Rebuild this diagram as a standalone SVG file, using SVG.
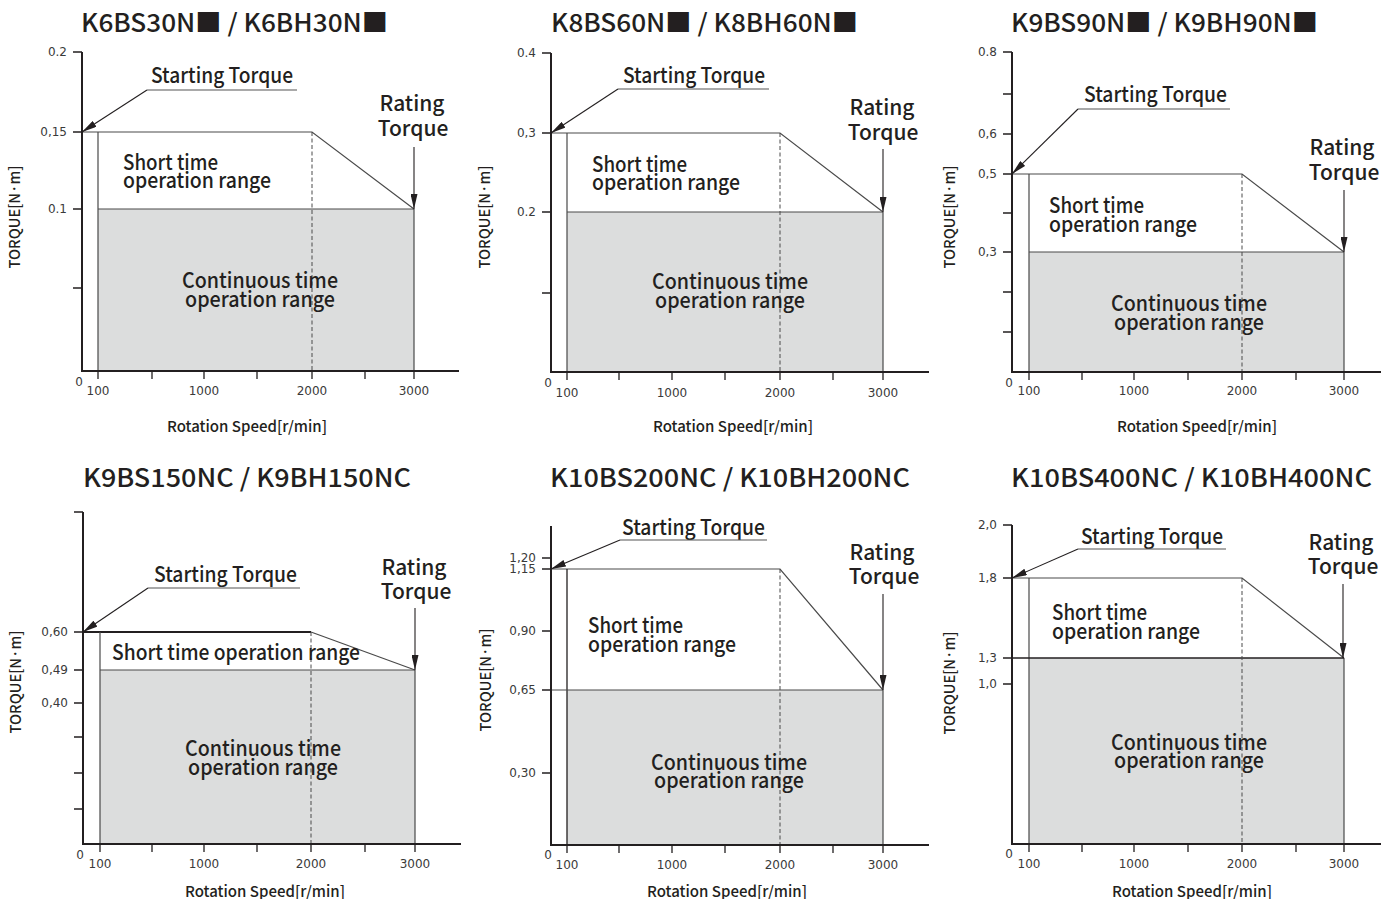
<svg xmlns="http://www.w3.org/2000/svg" width="1386" height="899" viewBox="0 0 1386 899">
<style>
.bg{fill:#ffffff}
.ax{stroke:#231f20;stroke-width:2;fill:none}
.tk{stroke:#231f20;stroke-width:1.3;fill:none}
.ln{stroke:#4a4a4a;stroke-width:1.2;fill:none}
.dk{stroke:#231f20;stroke-width:1.3;fill:none}
.thick{stroke:#231f20;stroke-width:2.2;fill:none}
.dash{stroke:#4a4a4a;stroke-width:1;stroke-dasharray:4 2.5;fill:none}
.ar{stroke:#231f20;stroke-width:1.1;fill:none}
.ul{stroke:#555;stroke-width:1.2;fill:none}
.cont{fill:#dcdddd}
.t{font-family:"Noto Sans CJK KR","Noto Sans",sans-serif;fill:#231f20}
.title{font-size:25px;font-weight:500}
.lbl{font-size:21px;font-weight:500}
.axl{font-size:15px;font-weight:500}
.num{font-family:"DejaVu Sans","Liberation Sans",sans-serif;font-size:12px;fill:#3a3a3a}
.r{text-anchor:end}
.m{text-anchor:middle}
</style>
<defs>
<marker id="ah" viewBox="0 0 15 7" refX="15" refY="3.5" markerWidth="15" markerHeight="7" markerUnits="userSpaceOnUse" orient="auto">
<path d="M0,0 L15,3.5 L0,7 z" fill="#231f20"/>
</marker>
</defs>
<rect class="bg" x="0" y="0" width="1386" height="899"/>

<!-- Chart 1 -->
<g id="chart-k6bs30">
<text class="t title" x="81" y="32" textLength="307" lengthAdjust="spacingAndGlyphs">K6BS30N■ / K6BH30N■</text>
<rect class="cont" x="98" y="209" width="316" height="162"/>
<path class="ln" d="M82,132 H312 L414,209"/>
<path class="ln" d="M98,132 V371 M98,209 H414 M414,209 V371"/>
<path class="dash" d="M312,132 V371"/>
<path class="ax" d="M82,52 V371 H459"/>
<path class="tk" d="M73,52 H82 M73,132 H82 M73,209 H82 M73,288 H82 M98,371 V379 M152,371 V379 M204,371 V379 M257,371 V379 M312,371 V379 M365,371 V379 M414,371 V379"/>
<text class="num r" x="67" y="56">0.2</text>
<text class="num r" x="67" y="136">0,15</text>
<text class="num r" x="67" y="213">0.1</text>
<text class="num m" x="79" y="386">0</text>
<text class="num m" x="98" y="395">100</text>
<text class="num m" x="204" y="395">1000</text>
<text class="num m" x="312" y="395">2000</text>
<text class="num m" x="414" y="395">3000</text>
<text class="t axl m" x="247" y="432" textLength="160" lengthAdjust="spacingAndGlyphs">Rotation Speed[r/min]</text>
<text class="t axl m" transform="translate(20,217) rotate(-90)" textLength="103" lengthAdjust="spacingAndGlyphs">TORQUE[N·m]</text>
<text class="t lbl" x="151" y="83" textLength="142" lengthAdjust="spacingAndGlyphs">Starting Torque</text>
<path class="ul" d="M147,90 H297"/>
<text class="t lbl m"><tspan x="412" y="111">Rating</tspan><tspan x="413" y="136">Torque</tspan></text>
<text class="t lbl"><tspan x="123" y="170" textLength="95" lengthAdjust="spacingAndGlyphs">Short time</tspan><tspan x="123" y="188" textLength="148" lengthAdjust="spacingAndGlyphs">operation range</tspan></text>
<text class="t lbl m"><tspan x="260" y="288" textLength="156" lengthAdjust="spacingAndGlyphs">Continuous time</tspan><tspan x="260" y="307" textLength="150" lengthAdjust="spacingAndGlyphs">operation range</tspan></text>
</g>

<!-- Chart 2 -->
<g id="chart-k8bs60">
<text class="t title" x="551" y="32" textLength="307" lengthAdjust="spacingAndGlyphs">K8BS60N■ / K8BH60N■</text>
<rect class="cont" x="567" y="212" width="316" height="160"/>
<path class="ln" d="M551,133 H780 L883,212"/>
<path class="ln" d="M567,133 V372 M567,212 H883 M883,212 V372"/>
<path class="dash" d="M780,133 V372"/>
<path class="ax" d="M551,53 V372 H929"/>
<path class="tk" d="M542,53 H551 M542,133 H551 M542,212 H551 M542,293 H551 M567,372 V380 M619,372 V380 M672,372 V380 M725,372 V380 M780,372 V380 M833,372 V380 M883,372 V380"/>
<text class="num r" x="536" y="57">0.4</text>
<text class="num r" x="536" y="137">0,3</text>
<text class="num r" x="536" y="216">0.2</text>
<text class="num m" x="548" y="387">0</text>
<text class="num m" x="567" y="397">100</text>
<text class="num m" x="672" y="397">1000</text>
<text class="num m" x="780" y="397">2000</text>
<text class="num m" x="883" y="397">3000</text>
<text class="t axl m" x="733" y="432" textLength="160" lengthAdjust="spacingAndGlyphs">Rotation Speed[r/min]</text>
<text class="t axl m" transform="translate(490,217) rotate(-90)" textLength="103" lengthAdjust="spacingAndGlyphs">TORQUE[N·m]</text>
<text class="t lbl" x="623" y="83" textLength="142" lengthAdjust="spacingAndGlyphs">Starting Torque</text>
<path class="ul" d="M618,89 H769"/>
<text class="t lbl m"><tspan x="882" y="115">Rating</tspan><tspan x="883" y="140">Torque</tspan></text>
<text class="t lbl"><tspan x="592" y="172" textLength="95" lengthAdjust="spacingAndGlyphs">Short time</tspan><tspan x="592" y="190" textLength="148" lengthAdjust="spacingAndGlyphs">operation range</tspan></text>
<text class="t lbl m"><tspan x="730" y="289" textLength="156" lengthAdjust="spacingAndGlyphs">Continuous time</tspan><tspan x="730" y="308" textLength="150" lengthAdjust="spacingAndGlyphs">operation range</tspan></text>
</g>

<!-- Chart 3 -->
<g id="chart-k9bs90">
<text class="t title" x="1011" y="32" textLength="307" lengthAdjust="spacingAndGlyphs">K9BS90N■ / K9BH90N■</text>
<rect class="cont" x="1029" y="252" width="315" height="120"/>
<path class="ln" d="M1012,174 H1242 L1344,252"/>
<path class="ln" d="M1029,174 V372 M1029,252 H1344 M1344,252 V372"/>
<path class="dash" d="M1242,174 V372"/>
<path class="ax" d="M1012,52 V372 H1381"/>
<path class="tk" d="M1003,52 H1012 M1003,94 H1012 M1003,134 H1012 M1003,174 H1012 M1003,213 H1012 M1003,252 H1012 M1003,292 H1012 M1003,332 H1012 M1029,372 V380 M1082,372 V380 M1134,372 V380 M1188,372 V380 M1242,372 V380 M1296,372 V380 M1344,372 V380"/>
<text class="num r" x="997" y="56">0.8</text>
<text class="num r" x="997" y="138">0,6</text>
<text class="num r" x="997" y="178">0,5</text>
<text class="num r" x="997" y="256">0,3</text>
<text class="num m" x="1009" y="387">0</text>
<text class="num m" x="1029" y="395">100</text>
<text class="num m" x="1134" y="395">1000</text>
<text class="num m" x="1242" y="395">2000</text>
<text class="num m" x="1344" y="395">3000</text>
<text class="t axl m" x="1197" y="432" textLength="160" lengthAdjust="spacingAndGlyphs">Rotation Speed[r/min]</text>
<text class="t axl m" transform="translate(955,217) rotate(-90)" textLength="103" lengthAdjust="spacingAndGlyphs">TORQUE[N·m]</text>
<text class="t lbl" x="1084" y="102" textLength="143" lengthAdjust="spacingAndGlyphs">Starting Torque</text>
<path class="ul" d="M1078,109 H1230"/>
<text class="t lbl m"><tspan x="1342" y="155">Rating</tspan><tspan x="1344" y="180">Torque</tspan></text>
<text class="t lbl"><tspan x="1049" y="213" textLength="95" lengthAdjust="spacingAndGlyphs">Short time</tspan><tspan x="1049" y="232" textLength="148" lengthAdjust="spacingAndGlyphs">operation range</tspan></text>
<text class="t lbl m"><tspan x="1189" y="311" textLength="156" lengthAdjust="spacingAndGlyphs">Continuous time</tspan><tspan x="1189" y="330" textLength="150" lengthAdjust="spacingAndGlyphs">operation range</tspan></text>
</g>

<!-- Chart 4 -->
<g id="chart-k9bs150">
<text class="t title" x="83" y="487" textLength="328" lengthAdjust="spacingAndGlyphs">K9BS150NC / K9BH150NC</text>
<rect class="cont" x="100" y="670" width="315" height="174"/>
<path class="thick" d="M83,632 H311"/>
<path class="ln" d="M311,632 L415,670"/>
<path class="ln" d="M100,632 V844 M100,670 H415 M415,670 V844"/>
<path class="dash" d="M311,632 V844"/>
<path class="ax" d="M83,512 V844 H461"/>
<path class="tk" d="M74,512 H83 M74,632 H83 M74,670 H83 M74,703 H83 M74,737 H83 M74,773 H83 M74,809 H83 M100,844 V852 M152,844 V852 M204,844 V852 M257,844 V852 M311,844 V852 M365,844 V852 M415,844 V852"/>
<text class="num r" x="68" y="636">0,60</text>
<text class="num r" x="68" y="674">0,49</text>
<text class="num r" x="68" y="707">0,40</text>
<text class="num m" x="80" y="859">0</text>
<text class="num m" x="100" y="868">100</text>
<text class="num m" x="204" y="868">1000</text>
<text class="num m" x="311" y="868">2000</text>
<text class="num m" x="415" y="868">3000</text>
<text class="t axl m" x="265" y="897" textLength="160" lengthAdjust="spacingAndGlyphs">Rotation Speed[r/min]</text>
<text class="t axl m" transform="translate(21,682) rotate(-90)" textLength="103" lengthAdjust="spacingAndGlyphs">TORQUE[N·m]</text>
<text class="t lbl" x="154" y="582" textLength="143" lengthAdjust="spacingAndGlyphs">Starting Torque</text>
<path class="ul" d="M148,588 H300"/>
<text class="t lbl m"><tspan x="414" y="575">Rating</tspan><tspan x="416" y="599">Torque</tspan></text>
<text class="t lbl" x="112" y="660" textLength="248" lengthAdjust="spacingAndGlyphs">Short time operation range</text>
<text class="t lbl m"><tspan x="263" y="756" textLength="156" lengthAdjust="spacingAndGlyphs">Continuous time</tspan><tspan x="263" y="775" textLength="150" lengthAdjust="spacingAndGlyphs">operation range</tspan></text>
</g>

<!-- Chart 5 -->
<g id="chart-k10bs200">
<text class="t title" x="550" y="487" textLength="360" lengthAdjust="spacingAndGlyphs">K10BS200NC / K10BH200NC</text>
<rect class="cont" x="567" y="690" width="316" height="155"/>
<path class="ln" d="M551,569 H780 L883,690"/>
<path class="dk" d="M567,569 V845"/>
<path class="ln" d="M551,690 H883 M883,690 V845"/>
<path class="dash" d="M780,569 V845"/>
<path class="ax" d="M551,526 V845 H929"/>
<path class="tk" d="M542,558 H551 M542,569 H551 M542,631 H551 M542,690 H551 M542,773 H551 M567,845 V853 M619,845 V853 M672,845 V853 M725,845 V853 M780,845 V853 M833,845 V853 M883,845 V853"/>
<text class="num r"><tspan x="536" y="562">1,20</tspan><tspan x="536" y="573">1,15</tspan></text>
<text class="num r" x="536" y="635">0,90</text>
<text class="num r" x="536" y="694">0,65</text>
<text class="num r" x="536" y="777">0,30</text>
<text class="num m" x="548" y="859">0</text>
<text class="num m" x="567" y="869">100</text>
<text class="num m" x="672" y="869">1000</text>
<text class="num m" x="780" y="869">2000</text>
<text class="num m" x="883" y="869">3000</text>
<text class="t axl m" x="727" y="897" textLength="160" lengthAdjust="spacingAndGlyphs">Rotation Speed[r/min]</text>
<text class="t axl m" transform="translate(491,680) rotate(-90)" textLength="103" lengthAdjust="spacingAndGlyphs">TORQUE[N·m]</text>
<text class="t lbl" x="622" y="535" textLength="143" lengthAdjust="spacingAndGlyphs">Starting Torque</text>
<path class="ul" d="M620,540 H767"/>
<text class="t lbl m"><tspan x="882" y="560">Rating</tspan><tspan x="884" y="584">Torque</tspan></text>
<text class="t lbl"><tspan x="588" y="633" textLength="95" lengthAdjust="spacingAndGlyphs">Short time</tspan><tspan x="588" y="652" textLength="148" lengthAdjust="spacingAndGlyphs">operation range</tspan></text>
<text class="t lbl m"><tspan x="729" y="770" textLength="156" lengthAdjust="spacingAndGlyphs">Continuous time</tspan><tspan x="729" y="788" textLength="150" lengthAdjust="spacingAndGlyphs">operation range</tspan></text>
</g>

<!-- Chart 6 -->
<g id="chart-k10bs400">
<text class="t title" x="1011" y="487" textLength="361" lengthAdjust="spacingAndGlyphs">K10BS400NC / K10BH400NC</text>
<rect class="cont" x="1029" y="658" width="315" height="186"/>
<path class="ln" d="M1012,578 H1242 L1344,658"/>
<path class="ln" d="M1029,578 V844 M1344,658 V844"/>
<path class="dk" d="M1012,658 H1344"/>
<path class="dash" d="M1242,578 V844"/>
<path class="ax" d="M1012,525 V844 H1381"/>
<path class="tk" d="M1003,525 H1012 M1003,578 H1012 M1003,658 H1012 M1003,684 H1012 M1029,844 V852 M1082,844 V852 M1134,844 V852 M1188,844 V852 M1242,844 V852 M1296,844 V852 M1344,844 V852"/>
<text class="num r" x="997" y="529">2,0</text>
<text class="num r" x="997" y="582">1,8</text>
<text class="num r" x="997" y="662">1,3</text>
<text class="num r" x="997" y="688">1,0</text>
<text class="num m" x="1009" y="858">0</text>
<text class="num m" x="1029" y="868">100</text>
<text class="num m" x="1134" y="868">1000</text>
<text class="num m" x="1242" y="868">2000</text>
<text class="num m" x="1344" y="868">3000</text>
<text class="t axl m" x="1192" y="897" textLength="160" lengthAdjust="spacingAndGlyphs">Rotation Speed[r/min]</text>
<text class="t axl m" transform="translate(955,683) rotate(-90)" textLength="103" lengthAdjust="spacingAndGlyphs">TORQUE[N·m]</text>
<text class="t lbl" x="1081" y="544" textLength="142" lengthAdjust="spacingAndGlyphs">Starting Torque</text>
<path class="ul" d="M1078,549 H1226"/>
<text class="t lbl m"><tspan x="1341" y="550">Rating</tspan><tspan x="1343" y="574">Torque</tspan></text>
<text class="t lbl"><tspan x="1052" y="620" textLength="95" lengthAdjust="spacingAndGlyphs">Short time</tspan><tspan x="1052" y="639" textLength="148" lengthAdjust="spacingAndGlyphs">operation range</tspan></text>
<text class="t lbl m"><tspan x="1189" y="750" textLength="156" lengthAdjust="spacingAndGlyphs">Continuous time</tspan><tspan x="1189" y="768" textLength="150" lengthAdjust="spacingAndGlyphs">operation range</tspan></text>
</g>

<!-- Connectors: leader arrows -->
<g id="connectors">
<path class="ar" d="M147,90 L82,132" marker-end="url(#ah)"/>
<path class="ar" d="M414,147 V209" marker-end="url(#ah)"/>
<path class="ar" d="M618,89 L551,133" marker-end="url(#ah)"/>
<path class="ar" d="M883,149 V212" marker-end="url(#ah)"/>
<path class="ar" d="M1078,109 L1012,174" marker-end="url(#ah)"/>
<path class="ar" d="M1344,190 V252" marker-end="url(#ah)"/>
<path class="ar" d="M148,588 L83,632" marker-end="url(#ah)"/>
<path class="ar" d="M415,608 V670" marker-end="url(#ah)"/>
<path class="ar" d="M620,540 L551,569" marker-end="url(#ah)"/>
<path class="ar" d="M883,594 V690" marker-end="url(#ah)"/>
<path class="ar" d="M1078,549 L1012,578" marker-end="url(#ah)"/>
<path class="ar" d="M1343,584 V658" marker-end="url(#ah)"/>
</g>
</svg>
